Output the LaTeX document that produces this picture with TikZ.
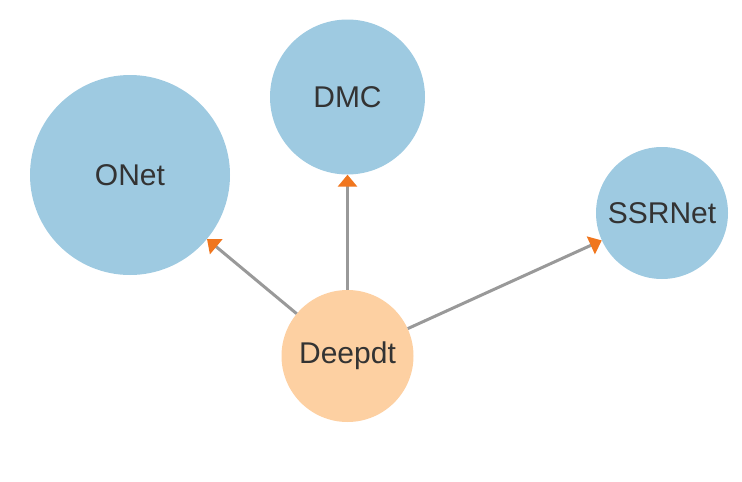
\documentclass[tikz,border=0pt]{standalone}
\usepackage{fontspec}
\setmainfont{Liberation Sans}
\usetikzlibrary{arrows.meta}
\definecolor{netblue}{RGB}{158,202,225}
\definecolor{netpeach}{RGB}{253,208,162}
\definecolor{tiporange}{RGB}{240,118,30}
\definecolor{edgegray}{RGB}{153,153,153}
\definecolor{labelgray}{RGB}{51,51,51}
\begin{document}
\begin{tikzpicture}[x=1pt,y=-1pt]
\tikzset{
  net/.style={circle, fill=netblue, inner sep=0pt, text=labelgray, font=\fontsize{30}{36}\selectfont},
  link/.style={draw=edgegray, line width=3pt, -{Triangle[length=12pt,width=19pt,color=tiporange]}}
}
\useasboundingbox (0,0) rectangle (742,482);
\node [net, minimum size=200pt] (onet) at (130,175) {ONet};
\node [net, minimum size=155pt] (dmc) at (347.5,97) {DMC};
\node [net, minimum size=132pt] (ssrnet) at (662,213) {SSRNet};
\node [net, fill=netpeach, minimum size=132pt] (deepdt) at (347.5,356) {Deepdt};
\draw [link] (deepdt) -- (onet);
\draw [link] (deepdt) -- (dmc);
\draw [link] (deepdt) -- (ssrnet);
\end{tikzpicture}
\end{document}
